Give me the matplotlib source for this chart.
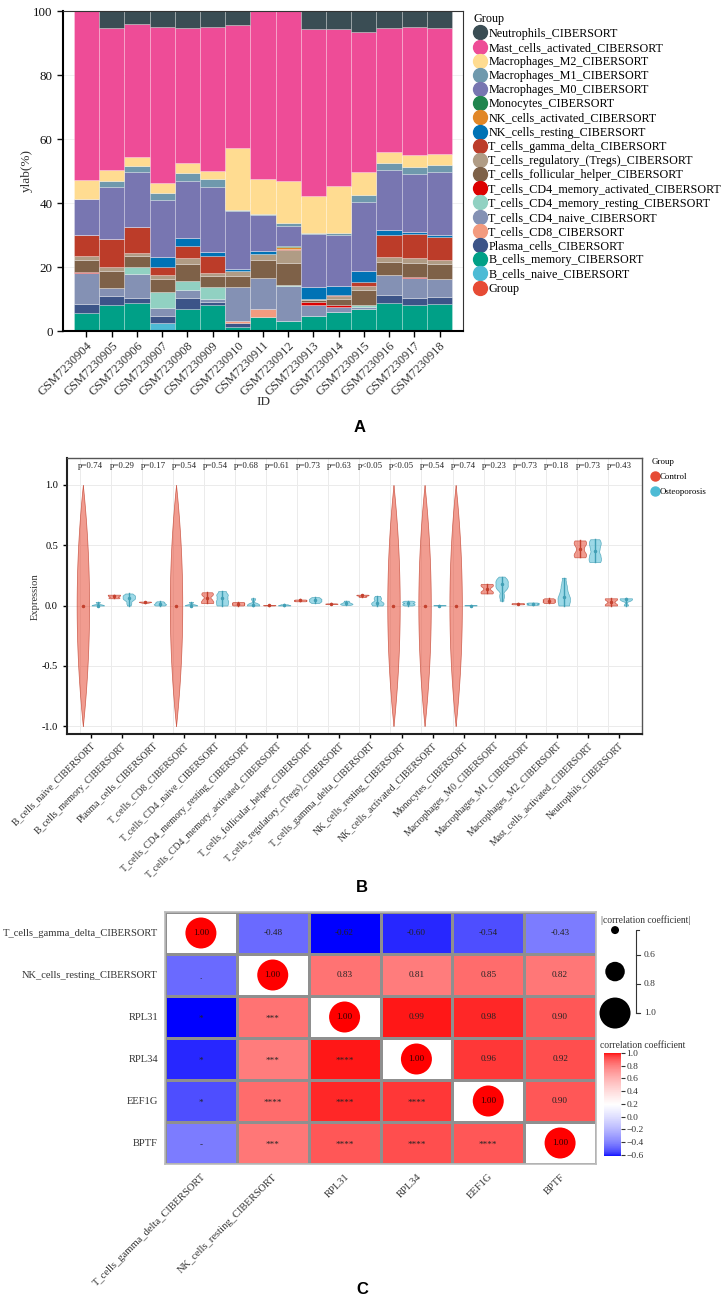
import numpy as np
import matplotlib
matplotlib.use('Agg')
import matplotlib.pyplot as plt
from matplotlib.lines import Line2D
from matplotlib import colors as mcolors
from matplotlib.cm import ScalarMappable

plt.rcParams['font.family'] = ['Liberation Serif', 'DejaVu Serif']

# ---------------- panel A: CIBERSORT fractions (%) per sample ----------------
samples = ['GSM7230904', 'GSM7230905', 'GSM7230906', 'GSM7230907', 'GSM7230908',
           'GSM7230909', 'GSM7230910', 'GSM7230911', 'GSM7230912', 'GSM7230913',
           'GSM7230914', 'GSM7230915', 'GSM7230916', 'GSM7230917', 'GSM7230918']

b_naive = [0, 0, 0, 2.6, 0, 0, 0, 0, 0, 0, 0, 0, 0, 0, 0]
b_memory = [5.5, 8.1, 8.6, 0, 6.9, 8.0, 1.2, 4.3, 3.2, 4.8, 6.0, 7.0, 8.6, 8.1, 8.3]
plasma = [2.9, 2.8, 1.8, 2.2, 3.3, 1.0, 1.3, 0, 0, 0, 0, 0, 2.6, 2.3, 2.4]
t_cd8 = [0, 0, 0, 0, 0, 0, 0.5, 2.5, 0, 0, 0, 0, 0, 0, 0]
t_cd4_naive = [9.8, 2.4, 7.4, 2.3, 2.6, 0.9, 10.9, 9.9, 10.9, 3.3, 1.6, 0.5, 6.2, 6.1, 5.7]
t_cd4_mem_rest = [0, 0, 2.1, 5.2, 2.8, 3.7, 0, 0, 0.3, 0, 0, 0.5, 0, 0, 0]
t_cd4_mem_act = [0.3, 0, 0, 0, 0, 0, 0, 0, 0, 1.0, 0.4, 0, 0, 0.3, 0]
t_fh = [3.7, 5.6, 3.5, 3.8, 5.2, 3.5, 3.4, 5.5, 6.9, 0.5, 2.1, 4.8, 4.3, 4.6, 4.5]
t_reg = [1.2, 1.2, 1.1, 1.3, 2.1, 1.0, 1.6, 1.9, 3.9, 0.5, 0.7, 1.4, 1.3, 1.3, 1.2]
t_gd = [6.5, 8.5, 8.1, 2.7, 3.7, 5.3, 0, 0, 0.5, 0, 0.4, 1.2, 7.0, 7.5, 7.3]
nk_rest = [0, 0, 0, 3.1, 2.6, 1.3, 0.4, 1.0, 0, 3.6, 2.8, 3.4, 1.6, 0.8, 0.7]
nk_act = [0, 0, 0, 0, 0, 0, 0, 0, 0.4, 0, 0, 0, 0, 0, 0]
monocytes = [0, 0, 0, 0, 0, 0, 0, 0, 0.6, 0, 0, 0, 0, 0, 0]
mac_m0 = [11.2, 16.5, 17.2, 17.7, 17.7, 20.3, 18.2, 11.2, 6.1, 16.7, 16.1, 21.6, 18.7, 18.1, 19.6]
mac_m1 = [0.3, 1.9, 1.8, 2.3, 2.6, 2.6, 0.3, 0.3, 0.8, 0.2, 0.6, 2.1, 2.1, 2.1, 2.1]
mac_m2 = [5.8, 3.3, 2.7, 2.9, 3.1, 2.4, 19.5, 10.8, 13.4, 11.7, 14.5, 7.1, 3.4, 3.9, 3.4]
mast_act = [52.8, 44.3, 41.6, 49.0, 42.0, 45.0, 38.4, 52.6, 53.3, 52.1, 49.2, 43.9, 39.0, 39.8, 39.5]
neutrophils = [0, 5.4, 4.1, 4.9, 5.4, 5.4, 4.3, 0, 0, 5.6, 5.6, 6.5, 5.2, 5.2, 5.2]

# bottom -> top
stack_names = ['B_cells_naive_CIBERSORT', 'B_cells_memory_CIBERSORT', 'Plasma_cells_CIBERSORT',
               'T_cells_CD8_CIBERSORT', 'T_cells_CD4_naive_CIBERSORT',
               'T_cells_CD4_memory_resting_CIBERSORT', 'T_cells_CD4_memory_activated_CIBERSORT',
               'T_cells_follicular_helper_CIBERSORT', 'T_cells_regulatory_(Tregs)_CIBERSORT',
               'T_cells_gamma_delta_CIBERSORT', 'NK_cells_resting_CIBERSORT',
               'NK_cells_activated_CIBERSORT', 'Monocytes_CIBERSORT', 'Macrophages_M0_CIBERSORT',
               'Macrophages_M1_CIBERSORT', 'Macrophages_M2_CIBERSORT',
               'Mast_cells_activated_CIBERSORT', 'Neutrophils_CIBERSORT']
stack_values = [b_naive, b_memory, plasma, t_cd8, t_cd4_naive, t_cd4_mem_rest, t_cd4_mem_act,
                t_fh, t_reg, t_gd, nk_rest, nk_act, monocytes, mac_m0, mac_m1, mac_m2,
                mast_act, neutrophils]
stack_colors = ['#4DBBD5', '#00A087', '#3C5488', '#F39B7F', '#8491B4', '#91D1C2', '#DC0000',
                '#7E6148', '#B09C85', '#BC3C29', '#0072B5', '#E18727', '#20854E', '#7876B1',
                '#6F99AD', '#FFDC91', '#EE4C97', '#3A4D54']
group_color = '#E64B35'

# ---------------- panel B: violin data ----------------
cell_types = ['B_cells_naive_CIBERSORT', 'B_cells_memory_CIBERSORT', 'Plasma_cells_CIBERSORT',
              'T_cells_CD8_CIBERSORT', 'T_cells_CD4_naive_CIBERSORT',
              'T_cells_CD4_memory_resting_CIBERSORT', 'T_cells_CD4_memory_activated_CIBERSORT',
              'T_cells_follicular_helper_CIBERSORT', 'T_cells_regulatory_(Tregs)_CIBERSORT',
              'T_cells_gamma_delta_CIBERSORT', 'NK_cells_resting_CIBERSORT',
              'NK_cells_activated_CIBERSORT', 'Monocytes_CIBERSORT', 'Macrophages_M0_CIBERSORT',
              'Macrophages_M1_CIBERSORT', 'Macrophages_M2_CIBERSORT',
              'Mast_cells_activated_CIBERSORT', 'Neutrophils_CIBERSORT']
p_labels = ['p=0.74', 'p=0.29', 'p=0.17', 'p=0.54', 'p=0.54', 'p=0.68', 'p=0.61', 'p=0.73',
            'p=0.63', 'p<0.05', 'p<0.05', 'p=0.54', 'p=0.74', 'p=0.23', 'p=0.73', 'p=0.18',
            'p=0.73', 'p=0.43']
control_vals = [[0.0], [0.06, 0.07, 0.085, 0.09], [0.022, 0.028, 0.03, 0.033], [0.0],
                [0.02, 0.03, 0.04, 0.08, 0.1, 0.11], [0.0, 0.01, 0.02, 0.03],
                [0.0, 0.003, 0.005], [0.035, 0.04, 0.045, 0.05], [0.012, 0.015, 0.018],
                [0.07, 0.08, 0.09, 0.09], [0.0], [0.0], [0.0],
                [0.1, 0.11, 0.12, 0.16, 0.17, 0.18], [0.01, 0.015, 0.02],
                [0.02, 0.03, 0.04, 0.05, 0.06], [0.4, 0.42, 0.44, 0.5, 0.52, 0.54],
                [0.0, 0.01, 0.05, 0.06]]
osteo_vals = [[0.0, 0.0, 0.0, 0.03], [0.0, 0.04, 0.06, 0.07, 0.08, 0.1], [0.0, 0.01, 0.02, 0.035],
              [0.0, 0.0, 0.0, 0.03], [0.0, 0.01, 0.03, 0.06, 0.07, 0.1, 0.12],
              [0.0, 0.0, 0.01, 0.06], [0.0, 0.003, 0.01], [0.02, 0.04, 0.05, 0.07],
              [0.005, 0.015, 0.02, 0.04], [0.0, 0.01, 0.04, 0.08], [0.0, 0.02, 0.04],
              [0.0, 0.0, 0.005], [0.0, 0.0, 0.005], [0.04, 0.12, 0.17, 0.18, 0.19, 0.24],
              [0.005, 0.015, 0.025], [0.0, 0.02, 0.04, 0.1, 0.13, 0.23],
              [0.36, 0.38, 0.42, 0.48, 0.52, 0.55], [0.0, 0.05, 0.055, 0.06]]
ctrl_color = '#E64B35'
osteo_color = '#4DBBD5'

# ---------------- panel C: correlation ----------------
corr_labels = ['T_cells_gamma_delta_CIBERSORT', 'NK_cells_resting_CIBERSORT',
               'RPL31', 'RPL34', 'EEF1G', 'BPTF']
corr_values = [[1.00, -0.48, -0.62, -0.60, -0.54, -0.43],
               [-0.48, 1.00, 0.83, 0.81, 0.85, 0.82],
               [-0.62, 0.83, 1.00, 0.99, 0.98, 0.90],
               [-0.60, 0.81, 0.99, 1.00, 0.96, 0.92],
               [-0.54, 0.85, 0.98, 0.96, 1.00, 0.90],
               [-0.43, 0.82, 0.90, 0.92, 0.90, 1.00]]
corr_stars = [['', '', '', '', '', ''],
              ['.', '', '', '', '', ''],
              ['*', '***', '', '', '', ''],
              ['*', '***', '****', '', '', ''],
              ['*', '****', '****', '****', '', ''],
              ['-', '***', '****', '****', '****', '']]
size_levels = [0.6, 0.8, 1.0]

W, H = 724, 1310
fig = plt.figure(figsize=(W / 100, H / 100), dpi=100)


def box(l, t, r, b):
    return [l / W, 1 - b / H, (r - l) / W, (b - t) / H]


# =============== A ===============
axA = fig.add_axes(box(63, 11, 463, 331))
x = np.arange(len(samples))
bottom = np.zeros(len(samples))
for vals, col in zip(stack_values, stack_colors):
    vals = np.array(vals, float)
    axA.bar(x, vals, 1.0, bottom=bottom, color=col, edgecolor=(1, 1, 1, 0.35), linewidth=0.5)
    bottom += vals
axA.set_xlim(-0.93, len(samples) - 0.07)
axA.set_ylim(0, 100)
axA.set_yticks([0, 20, 40, 60, 80, 100])
axA.set_xticks(x)
axA.set_xticklabels(samples, rotation=45, ha='right', va='top', rotation_mode='anchor',
                    fontsize=9.0, color='#333333')
axA.tick_params(axis='y', labelsize=9.4, length=4, width=1, colors='#111111')
axA.tick_params(axis='x', length=4, width=1, pad=2)
axA.yaxis.grid(True, color='#eeeeee', lw=0.6)
axA.set_axisbelow(True)
for s in ['left', 'bottom']:
    axA.spines[s].set_linewidth(1.5)
for s in ['top', 'right']:
    axA.spines[s].set_linewidth(0.8)
    axA.spines[s].set_color('#333333')
fig.text(27 / W, 1 - 170 / H, 'ylab(%)', rotation=90, ha='center', va='center',
         fontsize=9.5, color='#333333')
fig.text(263 / W, 1 - 402 / H, 'ID', ha='center', va='center', fontsize=9.5, color='#333333')

handles = [Line2D([], [], ls='', marker='o', markersize=10, color=c)
           for c in stack_colors[::-1]] + [Line2D([], [], ls='', marker='o', markersize=10,
                                                  color=group_color)]
labels = stack_names[::-1] + ['Group']
fig.legend(handles, labels, loc='upper left', bbox_to_anchor=(471 / W, 1 - 11 / H), frameon=False,
           title='Group', alignment='left', fontsize=8.7, title_fontsize=8.7,
           handlelength=1.15, handletextpad=0.08, labelspacing=0.18, borderpad=0.2,
           borderaxespad=0)

fig.text(360 / W, 1 - 428 / H, 'A', fontsize=12, fontweight='bold', family='Liberation Sans',
         ha='center', va='center')

# =============== B ===============
axB = fig.add_axes(box(67, 458, 642, 734))


def violin(ax, pos, vals, col, half=0.2):
    v = np.asarray(vals, float)
    if v.size == 1:
        h = 1.0
        lo, hi = v[0] - h, v[0] + h
    else:
        h = max(1.5 * v.std() * v.size ** -0.2, 0.006)
        lo, hi = v.min(), v.max()
    y = np.linspace(lo, hi, 200)
    u = (y[:, None] - v[None, :]) / h
    d = np.clip(1 - u ** 2, 0, None).sum(1)
    w = half * d / d.max()
    dark = tuple(np.array(mcolors.to_rgb(col)) * 0.85)
    ax.fill_betweenx(y, pos - w, pos + w, facecolor=mcolors.to_rgba(col, 0.55),
                     edgecolor=mcolors.to_rgba(dark, 0.8), linewidth=0.5, zorder=3)
    ax.plot([pos, pos], [v.min(), v.max()], color=dark, lw=1.0, zorder=4)
    ax.plot(pos, np.median(v), 'o', color=dark, ms=1.5, zorder=5)


for i in range(len(cell_types)):
    violin(axB, i - 0.26, control_vals[i], ctrl_color)
    violin(axB, i + 0.22, osteo_vals[i], osteo_color)
    axB.text(i, 1.155, p_labels[i], ha='center', va='center', fontsize=6.4, color='#222222')

axB.set_xlim(-0.77, len(cell_types) - 1 + 0.74)
axB.set_ylim(-1.066, 1.224)
axB.set_yticks([-1.0, -0.5, 0.0, 0.5, 1.0])
axB.set_yticklabels(['-1.0', '-0.5', '0.0', '0.5', '1.0'])
axB.set_xticks(np.arange(len(cell_types)))
axB.set_xticklabels(cell_types, rotation=45, ha='right', va='top', rotation_mode='anchor',
                    fontsize=7.0, color='#333333')
axB.set_xticks(np.arange(len(cell_types)) - 0.36, minor=True)
axB.tick_params(axis='x', which='minor', length=0)
axB.tick_params(axis='both', which='major', length=3, width=1, labelsize=7.4)
axB.tick_params(axis='x', which='major', pad=2, labelsize=7.0)
axB.grid(True, axis='y', which='major', color='#ebebeb', lw=0.7)
axB.grid(True, axis='x', which='minor', color='#ebebeb', lw=0.7)
axB.set_axisbelow(True)
for s in ['left', 'bottom']:
    axB.spines[s].set_linewidth(1.5)
    axB.spines[s].set_color('#222222')
for s in ['top', 'right']:
    axB.spines[s].set_linewidth(1.0)
    axB.spines[s].set_color('#555555')
fig.text(35 / W, 1 - 597 / H, 'Expression', rotation=90, ha='center', va='center',
         fontsize=7.6, color='#333333')

hB = [Line2D([], [], ls='', marker='o', markersize=6.5, color=ctrl_color),
      Line2D([], [], ls='', marker='o', markersize=6.5, color=osteo_color)]
fig.legend(hB, ['Control', 'Osteoporosis'], loc='upper left',
           bbox_to_anchor=(651 / W, 1 - 457 / H), frameon=False, title='Group',
           alignment='left', fontsize=6.4, title_fontsize=6.4, handlelength=0.6,
           handletextpad=0.3, labelspacing=0.75, borderpad=0.1, borderaxespad=0)

fig.text(362 / W, 1 - 887 / H, 'B', fontsize=12, fontweight='bold', family='Liberation Sans',
         ha='center', va='center')

# =============== C ===============
n = len(corr_labels)
R = np.array(corr_values)
t = np.linspace(0, 1, 256)
cols = []
for tt in t:
    if tt < 0.5:
        w = np.sqrt(tt / 0.5)
        cols.append((w, w, 1.0))
    else:
        w = np.sqrt((1 - tt) / 0.5)
        cols.append((1.0, w, w))
cmap = mcolors.ListedColormap(cols)
norm = mcolors.Normalize(R.min(), 1.0)

axC = fig.add_axes(box(165, 912, 596, 1164))
masked = np.ma.masked_where(np.eye(n, dtype=bool), R)
axC.pcolormesh(np.arange(n + 1), np.arange(n + 1), masked, cmap=cmap, norm=norm,
               edgecolors='#8f8f8f', linewidth=1.0)
axC.set_xlim(0, n)
axC.set_ylim(n, 0)
diag = np.arange(n) + 0.5
axC.scatter(diag, diag, s=(0.72 * (57.5 * np.abs(np.diag(R)) - 26.5)) ** 2,
            color='#FF0000', zorder=3, linewidths=0)
for i in range(n):
    for j in range(n):
        if i == j:
            axC.text(j + 0.5, i + 0.5, f'{R[i, j]:.2f}', ha='center', va='center',
                     fontsize=6.6, color='#2a0000', zorder=4)
        elif j > i:
            axC.text(j + 0.5, i + 0.5, f'{R[i, j]:.2f}', ha='center', va='center',
                     fontsize=6.6, color='#222222')
        else:
            axC.text(j + 0.5, i + 0.55, corr_stars[i][j], ha='center', va='center',
                     fontsize=6.6, color='#222222')
axC.set_xticks(diag)
axC.set_yticks(diag)
axC.set_yticklabels(corr_labels, fontsize=7.6, color='#333333')
axC.set_xticklabels(corr_labels, rotation=45, ha='right', va='top', rotation_mode='anchor',
                    fontsize=7.6, color='#333333')
axC.tick_params(axis='y', length=0, pad=5)
axC.tick_params(axis='x', length=0, pad=6)
for s in axC.spines.values():
    s.set_color('#bbbbbb')
    s.set_linewidth(1.2)

# colour bar
cax = fig.add_axes(box(604, 1053, 621, 1156))
cb = fig.colorbar(ScalarMappable(norm=norm, cmap=cmap), cax=cax,
                  ticks=[1.0, 0.8, 0.6, 0.4, 0.2, 0.0, -0.2, -0.4, -0.6])
cb.outline.set_visible(False)
cb.ax.set_yticklabels([('\u2212' if v < 0 else '') + f'{abs(v):.1f}'
                       for v in [1.0, 0.8, 0.6, 0.4, 0.2, 0.0, -0.2, -0.4, -0.6]])
cb.ax.tick_params(length=3, width=0.8, labelsize=6.8, pad=1, colors='#333333')
fig.text(600 / W, 1 - 1045 / H, 'correlation coefficient', ha='left', va='center',
         fontsize=6.9, color='#333333')

# size legend
axS = fig.add_axes(box(598, 925, 700, 1020))
axS.set_xlim(0, 1)
axS.set_ylim(1.048, 0.393)
axS.axis('off')
ys = np.linspace(0.428, 1.0, len(size_levels))
axS.scatter([0.167] * len(size_levels), ys,
            s=(0.72 * (57.5 * np.array(size_levels) - 26.5)) ** 2, color='black', linewidths=0,
            clip_on=False)
axS.plot([0.4, 0.373, 0.373, 0.4], [0.428, 0.428, 1.0, 1.0], color='#333333', lw=0.8)
for v in size_levels:
    axS.plot([0.373, 0.41], [v, v], color='#333333', lw=0.8)
    axS.text(0.45, v, f'{v:.1f}', ha='left', va='center', fontsize=6.8, color='#333333')
fig.text(601 / W, 1 - 920 / H, '|correlation coefficient|', ha='left', va='center',
         fontsize=6.9, color='#333333')

fig.text(362 / W, 1 - 1290 / H, 'C', fontsize=12, fontweight='bold', family='Liberation Sans',
         ha='center', va='center')

fig.savefig('out.png', dpi=100)
